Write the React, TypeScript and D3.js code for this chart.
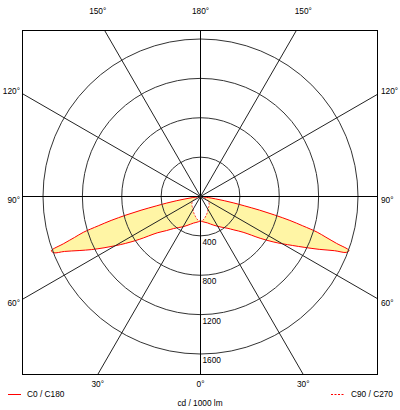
import React, { useEffect, useRef } from 'react';
import * as D3 from 'd3';

// gamma angles (deg from nadir) and intensities in cd / 1000 lm
const gammaAngles = [0, 5, 10, 15, 20, 25, 30, 35, 40, 45, 50, 55, 58, 60, 62, 64, 66, 68, 69, 70, 71, 72, 73, 74, 75, 76, 77, 78, 79, 80, 81, 82, 84, 86, 90];
const c0Values = [250, 257, 266, 278, 298, 322, 350, 382, 420, 480, 565, 740, 870, 960, 1060, 1180, 1320, 1470, 1585, 1605, 1460, 1340, 1240, 1080, 940, 775, 615, 455, 345, 245, 155, 80, 20, 0, 0];
const c180Values = [250, 258, 268, 280, 300, 325, 355, 385, 425, 490, 575, 760, 900, 1000, 1110, 1230, 1350, 1490, 1595, 1612, 1470, 1345, 1245, 1080, 940, 780, 620, 460, 350, 250, 160, 85, 20, 0, 0];

const c90Angles = [0, 5, 10, 15, 20, 25, 30, 35, 40, 45, 50, 55, 60, 65, 70, 75, 80, 85, 90];
const c90Values = [250, 244, 228, 206, 188, 170, 152, 140, 132, 124, 115, 104, 90, 75, 58, 42, 27, 12, 0];
const c270Values = [250, 244, 228, 206, 188, 170, 152, 140, 132, 124, 115, 104, 90, 75, 58, 42, 27, 12, 0];

const ringValues = [400, 800, 1200, 1600];
const spokeAngles = [0, 30, 60, 90, 120, 150, 180, 210, 240, 270, 300, 330];
const topLabels = ['150°', '180°', '150°'];
const bottomLabels = ['30°', '0°', '30°'];
const sideLabels = ['120°', '90°', '60°'];

const dimensions = {
    width: 400,
    height: 410,
    cx: 200.5,
    cy: 196.5,
    frame: { left: 22.5, right: 377.5, top: 30.5, bottom: 374.5 },
};

const font = '"Liberation Sans", Arial, sans-serif';
const rad = (d: number) => d * Math.PI / 180;

const PolarChart = () => {

    const container = useRef(null);

    useEffect(() => {
        if (!container.current) return;
        D3.select(container.current).selectAll('*').remove();

        const { cx, cy, frame } = dimensions;

        const svg = D3.select(container.current)
            .append('svg')
            .attr('width', dimensions.width)
            .attr('height', dimensions.height)
            .style('position', 'absolute')
            .style('left', '0px')
            .style('top', '0px')
            .style('background', '#fff');

        svg.append('clipPath').attr('id', 'frameClip')
            .append('rect')
            .attr('x', frame.left).attr('y', frame.top)
            .attr('width', frame.right - frame.left).attr('height', frame.bottom - frame.top);

        const rScale = D3.scaleLinear().domain([0, 1600]).range([0, 157.5]);

        const ctr = svg.append('g').attr('transform', `translate(${cx}, ${cy})`);

        // left half: angle = PI + gamma, right half: angle = PI - gamma
        const buildLoop = (angles: number[], left: number[], right: number[]) => {
            const pts: [number, number][] = [];
            for (let i = angles.length - 1; i >= 0; i--) pts.push([Math.PI + rad(angles[i]), left[i]]);
            for (let i = 1; i < angles.length; i++) pts.push([Math.PI - rad(angles[i]), right[i]]);
            return pts;
        };

        const line = D3.lineRadial<[number, number]>()
            .angle(d => d[0])
            .radius(d => rScale(d[1]))
            .curve(D3.curveCatmullRom.alpha(0.5));

        const mainLoop = buildLoop(gammaAngles, c180Values, c0Values);
        const crossLoop = buildLoop(c90Angles, c270Values, c90Values);

        ctr.append('path').attr('d', line(mainLoop) + 'Z').attr('fill', '#fff5a5').attr('stroke', 'none');
        ctr.append('path').attr('d', line(crossLoop) + 'Z').attr('fill', '#fff').attr('stroke', 'none');

        // grid
        const grid = svg.append('g').attr('clip-path', 'url(#frameClip)');
        grid.selectAll('circle')
            .data(ringValues)
            .join('circle')
            .attr('cx', cx).attr('cy', cy)
            .attr('r', d => rScale(d))
            .attr('fill', 'none')
            .attr('stroke', '#333')
            .attr('stroke-width', 1);

        grid.selectAll('line')
            .data(spokeAngles)
            .join('line')
            .attr('x1', cx).attr('y1', cy)
            .attr('x2', d => cx + 400 * Math.sin(rad(d)))
            .attr('y2', d => cy + 400 * Math.cos(rad(d)))
            .attr('stroke', d => d % 90 === 0 ? '#000' : '#222')
            .attr('stroke-width', 1);

        svg.append('rect')
            .attr('x', frame.left).attr('y', frame.top)
            .attr('width', frame.right - frame.left).attr('height', frame.bottom - frame.top)
            .attr('fill', 'none').attr('stroke', '#000').attr('stroke-width', 1);

        // curves
        ctr.append('path').attr('d', line(mainLoop) + 'Z')
            .attr('fill', 'none').attr('stroke', '#f00').attr('stroke-width', 1);
        ctr.append('path').attr('d', line(crossLoop))
            .attr('fill', 'none').attr('stroke', '#f33').attr('stroke-width', 1)
            .attr('stroke-dasharray', '2,1.5');

        const txt = (x: number, y: number, s: string, anchor = 'middle') =>
            svg.append('text')
                .attr('x', x).attr('y', y)
                .attr('text-anchor', anchor)
                .style('font-family', font)
                .style('font-size', '8.3px')
                .attr('fill', '#000')
                .text(s);

        // ring labels
        ringValues.forEach(v => txt(cx + 2, cy + rScale(v) + 9, String(v), 'start'));

        // angle labels
        const xOff = (frame.bottom - cy) * Math.tan(rad(30));
        [-1, 0, 1].forEach((k, i) => {
            txt(cx + k * xOff, 14.3, topLabels[i]);
            txt(cx + k * xOff, 386.7, bottomLabels[i]);
        });
        const yOff = (cx - frame.left) * Math.tan(rad(30));
        const sideY = [cy - yOff + 0.5, cy + 6, cy + yOff + 7];
        sideLabels.forEach((s, i) => {
            txt(frame.left - 2.5, sideY[i], s, 'end');
            txt(frame.right + 3.5, sideY[i], s, 'start');
        });

        // legend
        svg.append('line').attr('x1', 8).attr('x2', 21).attr('y1', 394.5).attr('y2', 394.5)
            .attr('stroke', '#f00').attr('stroke-width', 1);
        txt(27, 397.3, 'C0 / C180', 'start');
        svg.append('line').attr('x1', 331).attr('x2', 344).attr('y1', 394.5).attr('y2', 394.5)
            .attr('stroke', '#f00').attr('stroke-width', 1).attr('stroke-dasharray', '2,1.5');
        txt(351, 397.3, 'C90 / C270', 'start');
        txt(200, 406, 'cd / 1000 lm');

    }, [container.current]);

    return (<div ref={container} />);
};

export default function App() {
    return <PolarChart />;
}
